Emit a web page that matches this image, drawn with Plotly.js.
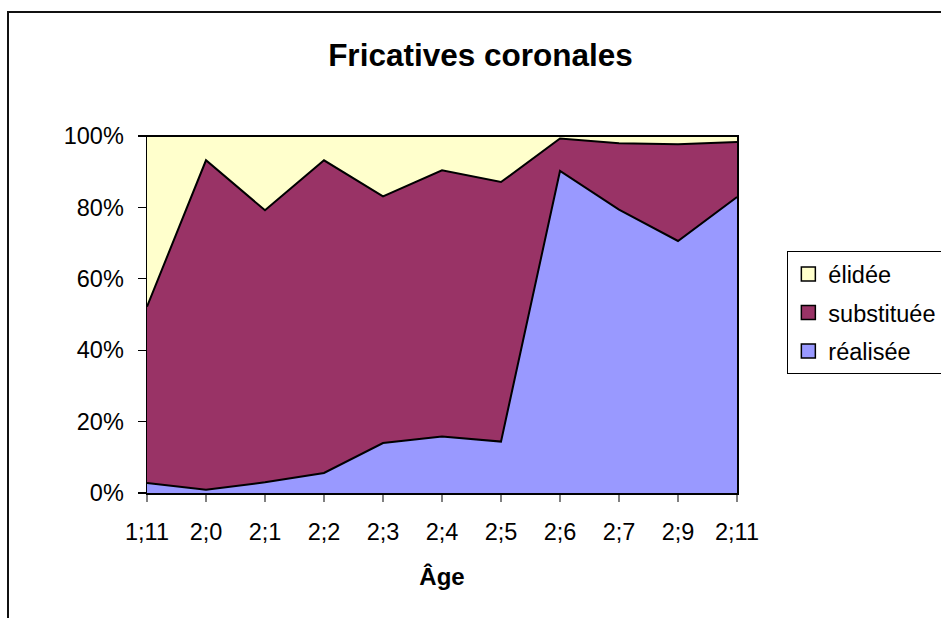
<!DOCTYPE html>
<html>
<head>
<meta charset="utf-8">
<script src="https://cdn.plot.ly/plotly-3.0.1.min.js"></script>
<style>
  html, body { margin: 0; padding: 0; background: #fff; }
  #wrap { position: relative; width: 941px; height: 618px; overflow: hidden; }
  #chart { width: 941px; height: 618px; }
  #frame { position: absolute; left: 7px; top: 11px; width: 960px; height: 640px;
           border-left: 2px solid #111; border-top: 2px solid #111; pointer-events: none; }
</style>
</head>
<body>
<div id="wrap">
  <div id="chart"></div>
  <div id="frame"></div>
</div>
<script>
const ages = ["1;11", "2;0", "2;1", "2;2", "2;3", "2;4", "2;5", "2;6", "2;7", "2;9", "2;11"];
const realisee   = [2.8, 0.9, 3.0, 5.6, 14.0, 15.8, 14.4, 90.2, 79.4, 70.6, 82.9];
const substituee = [49.4, 92.3, 76.2, 87.6, 69.1, 74.6, 72.7, 9.1, 18.6, 27.1, 15.4];
const elidee     = [47.8, 6.8, 20.8, 6.8, 16.9, 9.6, 12.9, 0.7, 2.0, 2.3, 1.7];
const seriesNames = ["réalisée", "substituée", "élidée"];
const seriesColors = ["#9999FF", "#993366", "#FFFFCC"];
const yTicks = [0, 20, 40, 60, 80, 100];
const yTickText = ["0%", "20%", "40%", "60%", "80%", "100%"];

const lineStyle = {color: "#000000", width: 2, shape: "linear"};
const seriesData = [realisee, substituee, elidee];
const traces = [];
seriesData.forEach((vals, i) => {
  const t = {x: ages, y: vals, name: seriesNames[i], type: "scatter", mode: "lines",
    stackgroup: "one", showlegend: false, line: lineStyle, fillcolor: seriesColors[i]};
  if (i === 0) t.groupnorm = "percent";
  traces.push(t);
});
// legend proxies (no data points)
seriesData.forEach((vals, i) => {
  traces.push({x: [null], y: [null], name: seriesNames[i], type: "scatter", mode: "markers",
    legendgroup: "g" + i, legendrank: 3 - i, showlegend: true,
    marker: {symbol: "square", size: 14, color: seriesColors[i], line: {color: "#000", width: 1.5}}});
});

const W = 941, H = 618;
const L = 146.7, R = 737.3, T = 135.7, B = 493.3;

const layout = {
  width: W, height: H,
  margin: {l: L, r: W - R, t: T, b: H - B, pad: 0, autoexpand: false},
  paper_bgcolor: "#ffffff",
  plot_bgcolor: "#ffffff",
  font: {family: "Liberation Sans, Arial, sans-serif", color: "#000000", size: 24},
  showlegend: true,
  hovermode: false,
  title: {
    text: "<b>Fricatives coronales</b>",
    font: {size: 31.5, family: "Liberation Sans, Arial, sans-serif", color: "#000"},
    xref: "paper", x: (480.5 - L) / (R - L), xanchor: "center",
    yref: "container", y: 1 - 55 / H, yanchor: "middle"
  },
  xaxis: {
    type: "category",
    range: [0, ages.length - 1],
    showline: true, linecolor: "#000000", linewidth: 1.5, mirror: true,
    ticks: "outside", ticklen: 7, tickcolor: "#808080", tickwidth: 1.3,
    tickfont: {size: 23.5}, ticklabelstandoff: 10,
    showgrid: false, zeroline: false, fixedrange: true,
    title: {text: "<b>Âge</b>", font: {size: 24}, standoff: 24}
  },
  yaxis: {
    range: [0, 100],
    tickvals: yTicks, ticktext: yTickText,
    showline: true, linecolor: "#000000", linewidth: 1.5, mirror: true,
    ticks: "outside", ticklen: 8, tickcolor: "#000000", tickwidth: 1.3,
    tickfont: {size: 23.5}, ticklabelstandoff: 9,
    showgrid: false, zeroline: false, fixedrange: true
  },
  legend: {
    x: (787.7 - L) / (R - L), xanchor: "left",
    y: (B - 251) / (B - T), yanchor: "top",
    traceorder: "grouped", tracegroupgap: 5,
    bgcolor: "#ffffff", bordercolor: "#000000", borderwidth: 1,
    font: {size: 23.5},
    itemwidth: 30
  }
};

Plotly.newPlot("chart", traces, layout, {displayModeBar: false, staticPlot: true});
</script>
</body>
</html>
